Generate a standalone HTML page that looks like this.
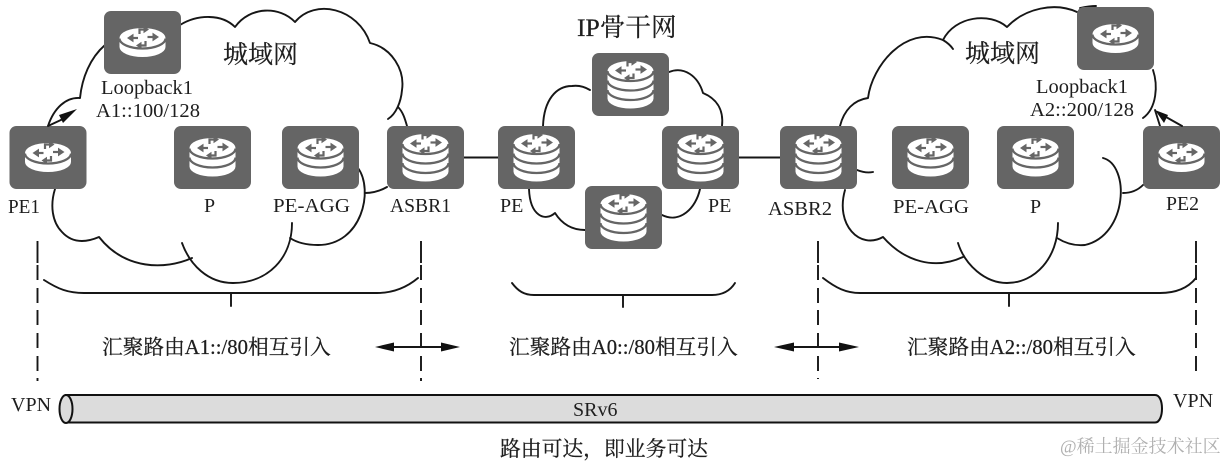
<!DOCTYPE html>
<html lang="zh">
<head>
<meta charset="utf-8">
<title>SRv6 network diagram</title>
<style>
html,body{margin:0;padding:0;background:#fff;}
body{width:1226px;height:464px;overflow:hidden;}
svg{display:block;filter:blur(0.35px);}
text{font-family:"Liberation Serif","Noto Serif CJK SC",serif;fill:#1e1e1e;}
.k{stroke:#1e1e1e;stroke-width:.25;}
.c{fill:none;stroke:#161616;stroke-width:1.9;stroke-linecap:round;stroke-linejoin:round;}
</style>
</head>
<body>
<svg width="1226" height="464" viewBox="0 0 1226 464" xmlns="http://www.w3.org/2000/svg">
<defs>
  <g id="marks" fill="none" stroke="#666" stroke-width="2.200">
    <path d="M-4.500 0.500H-10"/><path d="M-15.500 0.500l6.500-4.400v8.800z" fill="#666" stroke="none"/>
    <path d="M5 -0.500H11"/><path d="M16.500 -0.500l-6.500-4.400v8.800z" fill="#666" stroke="none"/>
    <path d="M-3 -3.500V-8H1"/><path d="M6.500 -8l-5.500-3.800v7.600z" fill="#666" stroke="none"/>
    <path d="M3 3.500V8H-1"/><path d="M-6.500 8l5.500-3.800v7.600z" fill="#666" stroke="none"/>
  </g>
  <g id="r1">
    <rect width="77" height="63" rx="7" fill="#656565"/>
    <path d="M15.500 27A23 10 0 0 1 61.500 27V36A23 10 0 0 1 15.500 36Z" fill="#fff"/>
    <path d="M15.500 27.500A23 10 0 0 0 61.500 27.500" fill="none" stroke="#656565" stroke-width="2.200"/>
    <use href="#marks" x="38.500" y="26.500"/>
  </g>
  <g id="r2">
    <rect width="77" height="63" rx="7" fill="#656565"/>
    <path d="M15.500 22A23 10 0 0 1 61.500 22V40.500A23 10 0 0 1 15.500 40.500Z" fill="#fff"/>
    <path d="M15.500 22.500A23 10 0 0 0 61.500 22.500M15.500 31.500A23 10 0 0 0 61.500 31.500" fill="none" stroke="#656565" stroke-width="2.200"/>
    <use href="#marks" x="38.500" y="21.500"/>
  </g>
  <g id="r3">
    <rect width="77" height="63" rx="7" fill="#656565"/>
    <path d="M15.500 18A23 10 0 0 1 61.500 18V45.500A23 10 0 0 1 15.500 45.500Z" fill="#fff"/>
    <path d="M15.500 18A23 10 0 0 0 61.500 18M15.500 27.500A23 10 0 0 0 61.500 27.500M15.500 37A23 10 0 0 0 61.500 37" fill="none" stroke="#656565" stroke-width="2.200"/>
    <use href="#marks" x="38.500" y="17"/>
  </g>
</defs>

<!-- left cloud -->
<path class="c" d="M48 126C54 108 66 97 80 98C82 78 90 58 105 45"/>
<path class="c" d="M180 25C198 14 222 14 235 27C250 6 280 6 295 22C315 -2 358 8 370 43C392 48 405 70 402 90C401 102 396 114 388 119"/>
<path class="c" d="M398 107C403 112 405 119 407 126"/>
<path class="c" d="M387 187C380 191 373 193 365 193"/>
<path class="c" d="M358 168C374 190 362 245 318 245C306 245 296 242 290 238"/>
<path class="c" d="M292 223C292 258 268 283 233 283C208 283 190 265 182 243"/>
<path class="c" d="M192 258C165 270 125 270 99 237C85 243 72 243 62 232C52 222 50 205 55 189"/>

<!-- middle cloud -->
<path class="c" d="M543 126C544 100 556 86 572 86C579 85 585 87 590 90"/>
<path class="c" d="M669 72C684 66 698 76 703 93C715 98 724 108 722 126"/>
<path class="c" d="M700 189C696 208 680 224 662 215"/>
<path class="c" d="M585 230C572 230 562 224 555 213C545 222 530 216 529 189"/>

<!-- right cloud -->
<path class="c" d="M840 126C844 110 854 100 868 98C872 66 905 25 943 40C948 43 951 46 953 49"/>
<path class="c" d="M943 40C955 16 990 12 1007 27C1025 8 1055 2 1077 12"/>
<path class="c" d="M1080 8C1085 7 1090 6 1096 6"/>
<path class="c" d="M1153 70C1158 85 1157 108 1143 118"/>
<path class="c" d="M1155 110L1160 126"/>
<path class="c" d="M1143 185C1137 191 1130 193 1123 193"/>
<path class="c" d="M1103 158C1130 165 1128 235 1085 245C1075 246 1065 243 1057 238"/>
<path class="c" d="M1058 223C1058 258 1035 283 1007 283C985 283 965 265 958 243"/>
<path class="c" d="M963 257C935 270 905 262 883 237C860 250 835 225 845 190"/>
<path class="c" d="M857 170C862 172 868 173 873 172"/>

<!-- links -->
<path class="c" d="M463 157.500H498M739 157.500H780"/>

<!-- routers -->
<use href="#r1" x="9.500" y="126"/>
<use href="#r1" x="104" y="11"/>
<use href="#r2" x="174" y="126"/>
<use href="#r2" x="282" y="126"/>
<use href="#r3" x="387" y="126"/>
<use href="#r3" x="498" y="126"/>
<use href="#r3" x="592" y="53"/>
<use href="#r3" x="585" y="186"/>
<use href="#r3" x="662" y="126"/>
<use href="#r3" x="780" y="126"/>
<use href="#r2" x="892" y="126"/>
<use href="#r2" x="997" y="126"/>
<use href="#r1" x="1143" y="126"/>
<use href="#r1" x="1077" y="7"/>

<!-- loopback arrows -->
<path class="c" d="M48 126L63 119"/>
<polygon points="77,109 59,115 63,123" fill="#111"/>
<path class="c" d="M1182 126L1166 117"/>
<polygon points="1155,110 1168,115 1164,123" fill="#111"/>

<!-- dashed lines -->
<path class="c" style="stroke-linecap:butt" d="M37.500 241V263M37.500 265V280M37.500 288V303M37.500 310V325M37.500 333V348M37.500 356V371M37.500 378V381"/>
<path class="c" style="stroke-linecap:butt" d="M421 241V263M421 265V280M421 288V303M421 310V325M421 333V348M421 356V371M421 378V381"/>
<path class="c" style="stroke-linecap:butt" d="M818 241V263M818 265V280M818 288V303M818 310V325M818 333V348M818 356V371M818 378V379"/>
<path class="c" style="stroke-linecap:butt" d="M1196 241V263M1196 265V280M1196 288V303M1196 310V325M1196 333V348M1196 356V371"/>

<!-- braces -->
<path class="c" d="M44 280C58 289 68 293 84 293H377C392 293 406 288 418 278M231 293V306"/>
<path class="c" d="M512 283C518 291 524 295 534 295H712C722 295 730 291 735 283M623 295V307"/>
<path class="c" d="M823 278C836 288 846 293 860 293H1160C1176 293 1188 288 1196 278M1009 293V306"/>

<!-- double arrows -->
<path class="c" d="M390 347H445"/>
<polygon points="375,347 394,342.500 394,351.500" fill="#111"/>
<polygon points="460,347 441,342.500 441,351.500" fill="#111"/>
<path class="c" d="M790 347H845"/>
<polygon points="774,347 794,342.500 794,351.500" fill="#111"/>
<polygon points="859,347 839,342.500 839,351.500" fill="#111"/>

<!-- tube -->
<path d="M66 395H1155C1160 395 1162 402 1162 408.500C1162 415 1160 422.500 1155 422.500H66Z" fill="#dcdcdc" stroke="#111" stroke-width="2"/>
<ellipse cx="66" cy="409" rx="6.500" ry="14" fill="#dcdcdc" stroke="#111" stroke-width="2"/>

<!-- labels -->
<text x="8" y="213" font-size="20" textLength="32" lengthAdjust="spacingAndGlyphs">PE1</text>
<text x="101" y="94" font-size="20" textLength="92" lengthAdjust="spacingAndGlyphs">Loopback1</text>
<text x="96" y="117" font-size="20" textLength="104" lengthAdjust="spacingAndGlyphs">A1::100/128</text>
<text x="204" y="212" font-size="20">P</text>
<text x="273" y="212" font-size="20" textLength="77" lengthAdjust="spacingAndGlyphs">PE-AGG</text>
<text x="390" y="212" font-size="20" textLength="61" lengthAdjust="spacingAndGlyphs">ASBR1</text>
<text x="500" y="212" font-size="20">PE</text>
<text x="708" y="212" font-size="20">PE</text>
<text x="768" y="215" font-size="20" textLength="64" lengthAdjust="spacingAndGlyphs">ASBR2</text>
<text x="893" y="213" font-size="20" textLength="76" lengthAdjust="spacingAndGlyphs">PE-AGG</text>
<text x="1030" y="213" font-size="20">P</text>
<text x="1166" y="210" font-size="20" textLength="33" lengthAdjust="spacingAndGlyphs">PE2</text>
<text x="1036" y="93" font-size="20" textLength="92" lengthAdjust="spacingAndGlyphs">Loopback1</text>
<text x="1030" y="116" font-size="20" textLength="104" lengthAdjust="spacingAndGlyphs">A2::200/128</text>

<text class="k" x="223" y="63" font-size="25">城域网</text>
<text class="k" x="965" y="62" font-size="25">城域网</text>
<text class="k" x="577" y="36" font-size="25.600">IP骨干网</text>

<text class="k" x="102" y="354" font-size="20.700">汇聚路由A1::/80相互引入</text>
<text class="k" x="509" y="354" font-size="20.700">汇聚路由A0::/80相互引入</text>
<text class="k" x="907" y="354" font-size="20.700">汇聚路由A2::/80相互引入</text>

<text x="11" y="411" font-size="20">VPN</text>
<text x="1173" y="407" font-size="20">VPN</text>
<text x="573" y="416" font-size="20">SRv6</text>

<text class="k" x="500" y="456" font-size="20.800">路由可达，即业务可达</text>
<text x="1060" y="452.500" font-size="18" style="fill:#b0b0b0">@稀土掘金技术社区</text>
</svg>
</body>
</html>
